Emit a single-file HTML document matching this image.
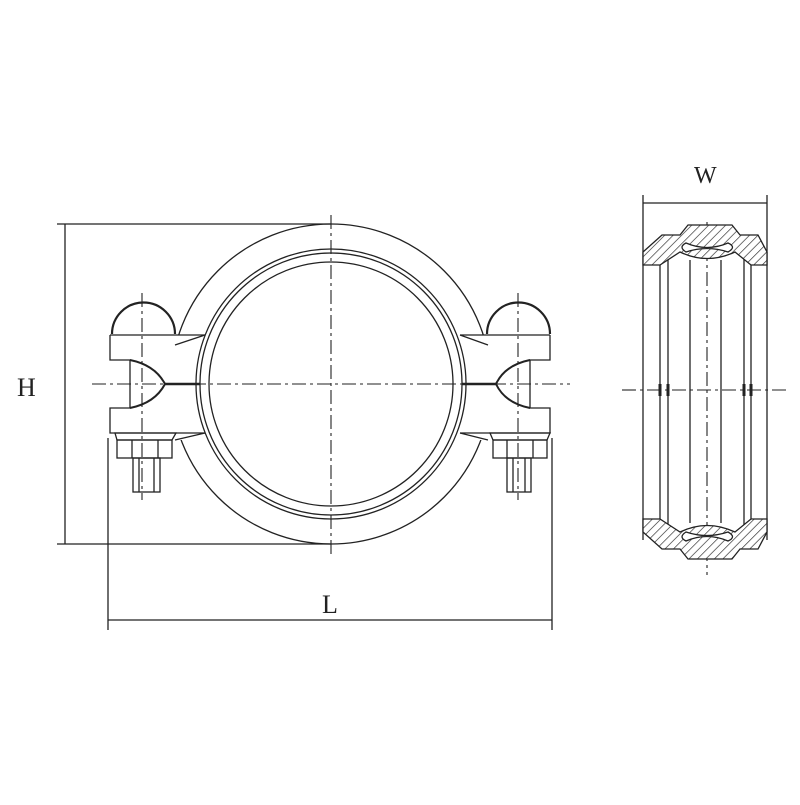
<!DOCTYPE html>
<html><head><style>html,body{margin:0;padding:0;background:#fff}</style></head>
<body>
<svg width="800" height="800" viewBox="0 0 800 800" xmlns="http://www.w3.org/2000/svg">
<defs>
<pattern id="h" width="6" height="6" patternUnits="userSpaceOnUse" patternTransform="rotate(45)">
<rect width="6" height="6" fill="#fff"/><line x1="0" y1="0" x2="0" y2="6" stroke="#222" stroke-width="1.3"/>
</pattern>
<clipPath id="outside"><path d="M0 0H800V800H0Z M110 335H205V440H110Z M460 335H552V440H460Z" clip-rule="evenodd"/></clipPath>
</defs>
<g fill="none" stroke="#222" stroke-width="1.3">
<!-- dimension H -->
<line x1="57" y1="224" x2="331" y2="224"/>
<line x1="57" y1="544" x2="331" y2="544"/>
<line x1="65" y1="224" x2="65" y2="544"/>
<!-- dimension L -->
<line x1="108" y1="438" x2="108" y2="630"/>
<line x1="552" y1="438" x2="552" y2="630"/>
<line x1="108" y1="620" x2="552" y2="620"/>
<!-- housing -->
<circle cx="331" cy="384" r="160" clip-path="url(#outside)"/>
<circle cx="331" cy="384" r="135"/>
<circle cx="331" cy="384" r="131"/>
<circle cx="331" cy="384" r="122"/>
<!-- left lug -->
<path d="M110 335H205 M110 335V360H130V408H110V433H205"/>
<path d="M205 335L175 345 M205 433L175 440"/>
<path d="M130 360Q155 365 165 384Q155 403 130 408" stroke-width="2"/>
<path d="M165 384L200 384" stroke-width="2.5"/>
<path d="M112 334A31 31 0 0 1 175 334" stroke-width="2.2"/>
<path d="M115 433H176L172 440H117Z"/>
<rect x="117" y="440" width="55" height="18"/>
<line x1="132" y1="440" x2="132" y2="458"/><line x1="158" y1="440" x2="158" y2="458"/>
<rect x="133" y="458" width="27" height="34"/>
<line x1="139" y1="458" x2="139" y2="492"/><line x1="154" y1="458" x2="154" y2="492"/>
<!-- right lug -->
<path d="M460 335H550 M550 335V360H530V408H550V433H460"/>
<path d="M460 335L488 345 M460 433L488 440"/>
<path d="M530 360Q505 365 496 384Q505 403 530 408" stroke-width="2"/>
<path d="M496 384L462 384" stroke-width="2.5"/>
<path d="M487 334A31.5 31.5 0 0 1 550 334" stroke-width="2.2"/>
<path d="M490 433H550L547 440H493Z"/>
<rect x="493" y="440" width="54" height="18"/>
<line x1="507" y1="440" x2="507" y2="458"/><line x1="533" y1="440" x2="533" y2="458"/>
<rect x="507" y="458" width="24" height="34"/>
<line x1="513" y1="458" x2="513" y2="492"/><line x1="525" y1="458" x2="525" y2="492"/>
<!-- centerlines -->
<g stroke-dasharray="14 4 3 4" stroke-width="1.1">
<line x1="92" y1="384" x2="570" y2="384"/>
<line x1="331" y1="215" x2="331" y2="556"/>
<line x1="142" y1="293" x2="142" y2="500"/>
<line x1="518" y1="293" x2="518" y2="500"/>
<line x1="622" y1="390" x2="790" y2="390"/>
<line x1="707" y1="222" x2="707" y2="575"/>
</g>
<!-- side view W -->
<line x1="643" y1="195" x2="643" y2="540"/>
<line x1="767" y1="195" x2="767" y2="540"/>
<line x1="643" y1="203" x2="767" y2="203"/>
<line x1="660" y1="265" x2="660" y2="520"/>
<line x1="668" y1="258" x2="668" y2="525"/>
<line x1="690" y1="260" x2="690" y2="523"/>
<line x1="721" y1="260" x2="721" y2="523"/>
<line x1="744" y1="258" x2="744" y2="525"/>
<line x1="751" y1="265" x2="751" y2="520"/>
<!-- top section -->
<path d="M643 252L662 235H680L688 225H732L740 235H758L767 252V265H751L735 252Q707 265 680 252L660 265H643Z" fill="url(#h)"/>
<path d="M686 243Q707 252 728 243Q737 247 728 252Q707 245 686 252Q678 247 686 243Z" fill="#fff"/>
<!-- bottom section -->
<path d="M643 532L662 549H680L688 559H732L740 549H758L767 532V519H751L735 532Q707 519 680 532L660 519H643Z" fill="url(#h)"/>
<path d="M686 541Q707 532 728 541Q737 537 728 532Q707 539 686 532Q678 537 686 541Z" fill="#fff"/>
<g stroke-width="3"><line x1="660" y1="384" x2="660" y2="396"/><line x1="668" y1="384" x2="668" y2="396"/><line x1="744" y1="384" x2="744" y2="396"/><line x1="751" y1="384" x2="751" y2="396"/></g>
</g>
<g font-family="Liberation Serif, serif" font-size="26" fill="#222">
<text x="17" y="396">H</text>
<text x="322" y="613">L</text>
<text x="694" y="183" font-size="24">W</text>
</g>
</svg>
</body></html>
